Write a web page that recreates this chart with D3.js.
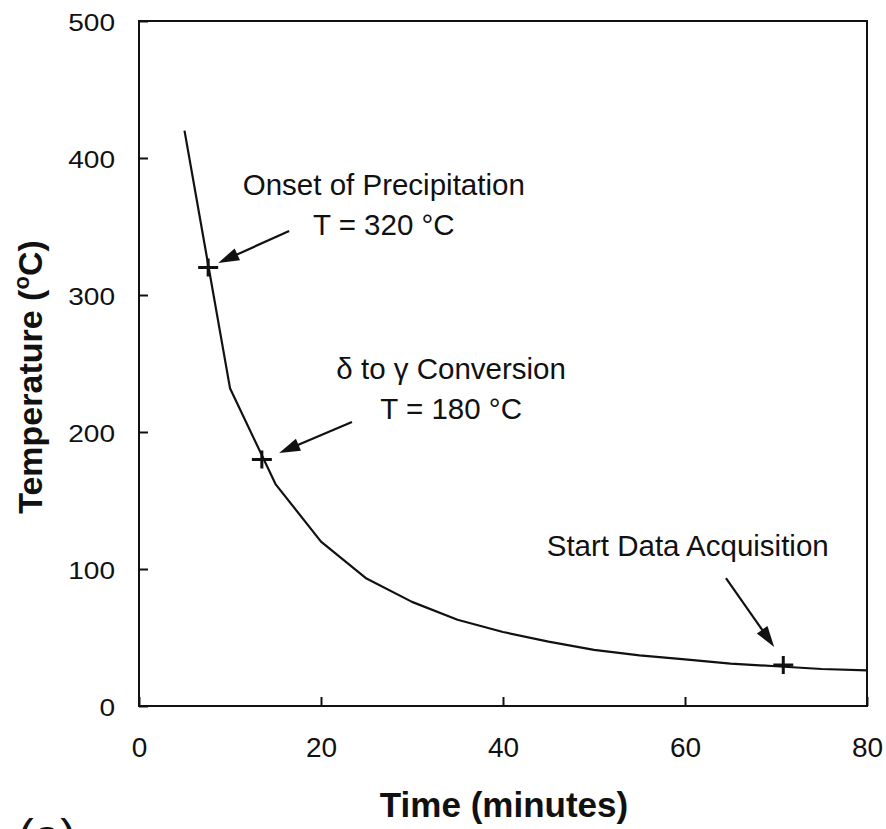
<!DOCTYPE html>
<html>
<head>
<meta charset="utf-8">
<script src="https://cdn.jsdelivr.net/npm/d3@7"></script>
<style>
  html, body { margin: 0; padding: 0; background: #fff; }
  svg { display: block; }
  text { font-family: "Liberation Sans", Arial, Helvetica, sans-serif; fill: #111; }
</style>
</head>
<body>
<svg id="chart" width="886" height="829"></svg>
<script>
// ---- data ----
const timeMin = [5, 10, 15, 20, 25, 30, 35, 40, 45, 50, 55, 60, 65, 70, 75, 80];
const tempC   = [420, 232, 162, 120, 93, 76, 63, 54, 47, 41, 37, 34, 31, 29, 27, 26];

const markerTime = [7.6, 13.5, 70.8];
const markerTemp = [320, 180, 30];

const xTicks = [0, 20, 40, 60, 80];
const yTicks = [0, 100, 200, 300, 400, 500];

const annoLines = [
  ["Onset of Precipitation", "T = 320 °C"],
  ["δ to γ Conversion", "T = 180 °C"],
  ["Start Data Acquisition"]
];
const annoTime = [26.9, 34.3, 60.3];
const annoTemp = [373, 238.7, 109.5];
const arrowFromTime = [16.5, 23.4, 64.5];
const arrowFromTemp = [346.7, 207.3, 93.4];
const arrowToTime = [8.7, 15.4, 69.8];
const arrowToTemp = [323.4, 184.7, 43.1];

const xTitle = "Time (minutes)";
const yTitleParts = ["Temperature (", "o", "C)"];
const panelLabel = "(a)";

// ---- layout ----
const svg = d3.select("#chart");
const L = 139, R = 867, T = 21, B = 706;
const x = d3.scaleLinear().domain([0, 80]).range([L, R]);
const y = d3.scaleLinear().domain([0, 500]).range([B, T]);

// frame
svg.append("rect")
  .attr("x", L).attr("y", T).attr("width", R - L).attr("height", B - T)
  .attr("fill", "none").attr("stroke", "#111").attr("stroke-width", 2);

// x axis
const gx = svg.append("g").attr("transform", `translate(0,${B})`)
  .call(d3.axisBottom(x).tickValues(xTicks).tickSize(-9).tickPadding(31).tickFormat(d3.format("d")));
gx.select(".domain").remove();
gx.selectAll(".tick line").attr("stroke", "#111").attr("stroke-width", 2);
gx.selectAll(".tick text").attr("font-size", 28).attr("fill", "#222");

// y axis
const gy = svg.append("g").attr("transform", `translate(${L},0)`)
  .call(d3.axisLeft(y).tickValues(yTicks).tickSize(-9).tickPadding(24).tickFormat(d3.format("d")));
gy.select(".domain").remove();
gy.selectAll(".tick line").attr("stroke", "#111").attr("stroke-width", 2);
gy.selectAll(".tick text")
  .attr("font-size", 24).attr("fill", "#222")
  .attr("x", 0).attr("dy", "0.38em")
  .attr("transform", "translate(-24,0) scale(1.17,1)");

// curve
const pts = timeMin.map((t, i) => [t, tempC[i]]);
svg.append("path")
  .attr("d", d3.line().x(d => x(d[0])).y(d => y(d[1]))(pts))
  .attr("fill", "none").attr("stroke", "#111").attr("stroke-width", 2.2)
  .attr("stroke-linejoin", "round");

// markers (+)
const mk = svg.append("g");
markerTime.forEach((t, i) => {
  const cx = x(t), cy = y(markerTemp[i]);
  mk.append("path")
    .attr("d", `M${cx - 10},${cy}H${cx + 10}M${cx},${cy - 9}V${cy + 9}`)
    .attr("stroke", "#111").attr("stroke-width", 3).attr("fill", "none");
});

// arrows
const ar = svg.append("g");
arrowFromTime.forEach((t, i) => {
  const x1 = x(t), y1 = y(arrowFromTemp[i]);
  const x2 = x(arrowToTime[i]), y2 = y(arrowToTemp[i]);
  const dx = x2 - x1, dy = y2 - y1, len = Math.hypot(dx, dy);
  const ux = dx / len, uy = dy / len;
  const hl = 21, hw = 6.5;
  const bx = x2 - ux * hl, by = y2 - uy * hl;
  ar.append("line")
    .attr("x1", x1).attr("y1", y1).attr("x2", bx + ux * 2).attr("y2", by + uy * 2)
    .attr("stroke", "#111").attr("stroke-width", 2.2);
  ar.append("path")
    .attr("d", `M${x2},${y2}L${bx - uy * hw},${by + ux * hw}L${bx + uy * hw},${by - ux * hw}Z`)
    .attr("fill", "#111");
});

// annotation texts
annoLines.forEach((lines, i) => {
  const t = svg.append("text")
    .attr("x", x(annoTime[i])).attr("y", y(annoTemp[i]))
    .attr("text-anchor", "middle").attr("font-size", 29.5).attr("fill", "#222");
  lines.forEach((s, j) => {
    t.append("tspan").attr("x", x(annoTime[i])).attr("dy", j === 0 ? 0 : 40).text(s);
  });
});

// axis titles
svg.append("text")
  .attr("x", (L + R) / 2 + 1).attr("y", 817)
  .attr("text-anchor", "middle").attr("font-size", 35).attr("font-weight", "bold")
  .text(xTitle);

const yt = svg.append("text")
  .attr("transform", "translate(42,377) rotate(-90)")
  .attr("text-anchor", "middle").attr("font-size", 34).attr("font-weight", "bold");
yt.append("tspan").text(yTitleParts[0]);
yt.append("tspan").attr("font-size", 22).attr("dy", -13).text(yTitleParts[1]);
yt.append("tspan").attr("dy", 13).text(yTitleParts[2]);

// panel label (cut off at the bottom edge, as in the reference)
svg.append("text")
  .attr("x", 47).attr("y", 853)
  .attr("text-anchor", "middle").attr("font-size", 48)
  .text(panelLabel);
</script>
</body>
</html>
